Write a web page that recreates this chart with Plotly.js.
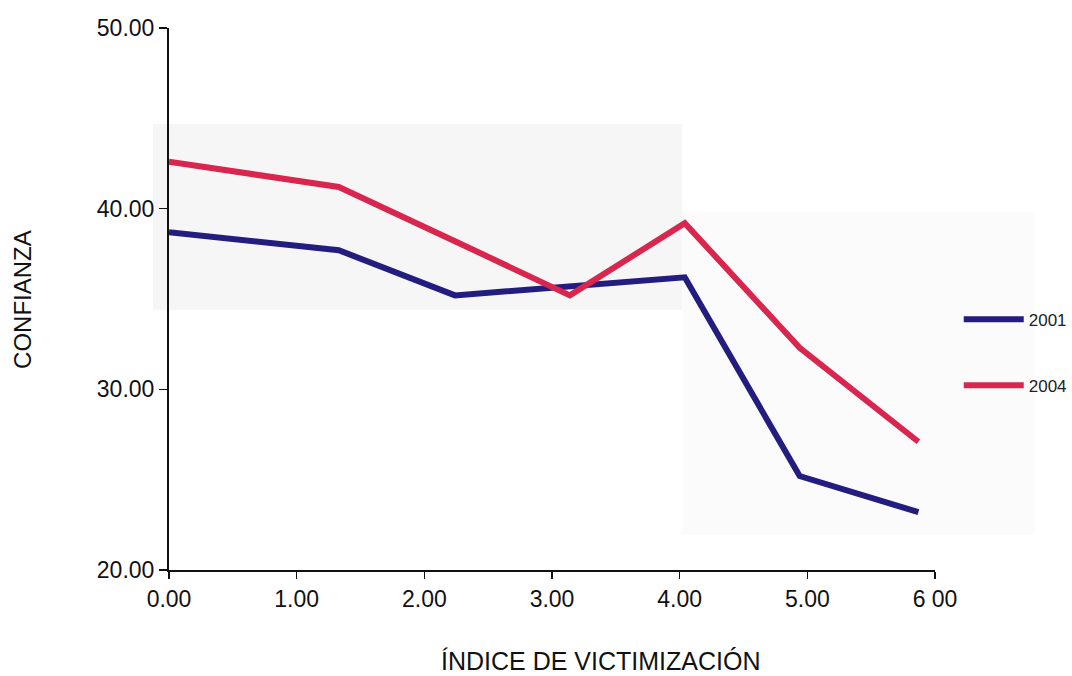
<!DOCTYPE html>
<html>
<head>
<meta charset="utf-8">
<script src="https://cdn.plot.ly/plotly-3.0.1.min.js"></script>
<style>
html,body{margin:0;padding:0;background:#fff;}
#chart{width:1072px;height:676px;}
</style>
</head>
<body>
<div id="chart"></div>
<script>
// Data
const victimizacion = [0.00, 1.33, 2.24, 3.14, 4.04, 4.94, 5.87];
const confianza2001 = [38.7, 37.7, 35.2, 35.7, 36.2, 25.2, 23.2];
const confianza2004 = [42.6, 41.2, 38.2, 35.2, 39.2, 32.3, 27.1];
const seriesNames = ["2001", "2004"];
const xTickVals = [0, 1, 2, 3, 4, 5, 6];
const xTickText = ["0.00", "1.00", "2.00", "3.00", "4.00", "5.00", "6 00"];
const yTickVals = [20, 30, 40, 50];
const yTickText = ["20.00", "30.00", "40.00", "50.00"];

const font = "'Liberation Sans', Arial, sans-serif";

const traces = [
  {x: victimizacion, y: confianza2001, name: seriesNames[0], mode: "lines",
   line: {color: "#241d80", width: 6}, legend: "legend"},
  {x: victimizacion, y: confianza2004, name: seriesNames[1], mode: "lines",
   line: {color: "#d9264f", width: 6}, legend: "legend2"}
];

const legendCommon = {
  xref: "paper", yref: "paper", xanchor: "left", yanchor: "middle",
  font: {family: font, size: 17, color: "#222"},
  bgcolor: "rgba(0,0,0,0)", itemwidth: 60
};

const layout = {
  width: 1072, height: 676,
  margin: {l: 169, r: 137, t: 28, b: 106, autoexpand: false},
  paper_bgcolor: "#ffffff", plot_bgcolor: "rgba(0,0,0,0)",
  showlegend: true,
  legend: Object.assign({}, legendCommon, {x: 1.031, y: 0.462}),
  legend2: Object.assign({}, legendCommon, {x: 1.031, y: 0.340}),
  xaxis: {
    range: [0, 6], tickvals: xTickVals, ticktext: xTickText,
    showgrid: false, zeroline: false, showline: true, linecolor: "#111", linewidth: 2,
    ticks: "outside", ticklen: 7, tickwidth: 1.5, tickcolor: "#111",
    tickfont: {family: font, size: 23, color: "#111"}
  },
  yaxis: {
    range: [20, 50], tickvals: yTickVals, ticktext: yTickText,
    showgrid: false, zeroline: false, showline: true, linecolor: "#111", linewidth: 2,
    ticks: "outside", ticklen: 8, tickwidth: 1.5, tickcolor: "#111",
    tickfont: {family: font, size: 23, color: "#111"}
  },
  shapes: [
    {type: "rect", xref: "paper", yref: "paper", layer: "below",
     x0: -0.021, x1: 0.67, y0: 0.48, y1: 0.823, fillcolor: "#f6f6f6", line: {width: 0}},
    {type: "rect", xref: "paper", yref: "paper", layer: "below",
     x0: 0.67, x1: 1.13, y0: 0.065, y1: 0.66, fillcolor: "#fbfbfb", line: {width: 0}}
  ],
  annotations: [
    {text: "ÍNDICE DE VICTIMIZACIÓN", xref: "paper", yref: "paper", x: 0.563, y: -0.168,
     xanchor: "center", yanchor: "middle", showarrow: false,
     font: {family: font, size: 25, color: "#111"}},
    {text: "CONFIANZA", xref: "paper", yref: "paper", x: -0.192, y: 0.5,
     xanchor: "center", yanchor: "middle", showarrow: false, textangle: -90,
     font: {family: font, size: 24, color: "#111"}}
  ]
};

Plotly.newPlot("chart", traces, layout, {displayModeBar: false, staticPlot: true});
</script>
</body>
</html>
